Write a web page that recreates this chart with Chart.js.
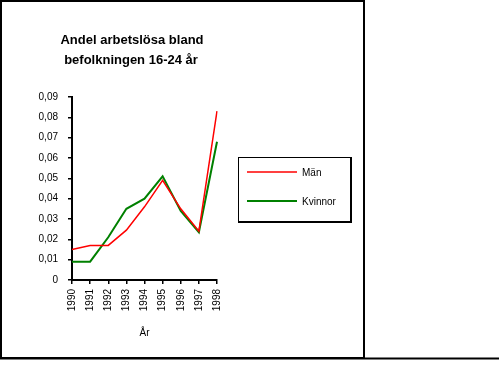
<!DOCTYPE html>
<html>
<head>
<meta charset="utf-8">
<script src="https://cdn.jsdelivr.net/npm/chart.js@4"></script>
<style>
  html, body { margin: 0; padding: 0; background: #fff; }
  #wrap { width: 499px; height: 367px; position: relative; }
</style>
</head>
<body>
<div id="wrap"><canvas id="chart" width="499" height="367"></canvas></div>
<script>
// ===== DATA =====
const years = ['1990', '1991', '1992', '1993', '1994', '1995', '1996', '1997', '1998'];
const man = [0.015, 0.017, 0.017, 0.0245, 0.036, 0.049, 0.035, 0.024, 0.083];
const kvinnor = [0.009, 0.009, 0.021, 0.035, 0.040, 0.051, 0.034, 0.0235, 0.068];
const seriesNames = ['Män', 'Kvinnor'];
const titleLines = ['Andel arbetslösa bland', 'befolkningen 16-24 år'];
const axisTitle = 'År';

const FONT = 'Arial, "Liberation Sans", sans-serif';

// frame, title and legend box drawn around the plot
const decor = {
  id: 'decor',
  afterDraw(chart) {
    const ctx = chart.ctx;
    ctx.save();
    // outer frame
    ctx.strokeStyle = '#000';
    ctx.lineWidth = 2;
    ctx.strokeRect(1, 1, 363, 357);
    ctx.beginPath();
    ctx.moveTo(0, 358.5);
    ctx.lineTo(499, 358.5);
    ctx.stroke();

    // title
    ctx.fillStyle = '#000';
    ctx.font = 'bold 13px ' + FONT;
    ctx.textAlign = 'center';
    ctx.textBaseline = 'middle';
    ctx.fillText(titleLines[0], 132, 40);
    ctx.fillText(titleLines[1], 131, 60);

    // legend box
    ctx.lineWidth = 1;
    ctx.strokeRect(238.5, 157.5, 112, 64);
    ctx.lineWidth = 2;
    ctx.beginPath();
    ctx.moveTo(238, 222);
    ctx.lineTo(351, 222);
    ctx.lineTo(351, 157);
    ctx.stroke();

    ctx.font = '10px ' + FONT;
    ctx.textAlign = 'left';
    chart.data.datasets.forEach((ds, i) => {
      const y = 172 + i * 29;
      ctx.strokeStyle = ds.borderColor;
      ctx.lineWidth = ds.borderWidth;
      ctx.beginPath();
      ctx.moveTo(247, y);
      ctx.lineTo(297, y);
      ctx.stroke();
      ctx.fillStyle = '#000';
      ctx.fillText(ds.label, 302, y + 1);
    });
    ctx.restore();
  }
};

new Chart(document.getElementById('chart'), {
  type: 'line',
  data: {
    labels: years,
    datasets: [
      { label: seriesNames[0], data: man, borderColor: '#ff0000', borderWidth: 1.5, pointRadius: 0, tension: 0 },
      { label: seriesNames[1], data: kvinnor, borderColor: '#008000', borderWidth: 2, pointRadius: 0, tension: 0 }
    ]
  },
  options: {
    responsive: false,
    animation: false,
    layout: { padding: { left: 0, top: 97, right: 282, bottom: 0 } },
    plugins: {
      legend: { display: false },
      title: { display: false },
      tooltip: { enabled: false }
    },
    scales: {
      x: {
        offset: false,
        afterFit: (s) => { s.height = 87; },
        border: { color: '#000', width: 2 },
        grid: { drawOnChartArea: false, drawTicks: true, tickLength: 4, color: '#000', lineWidth: 1.5 },
        ticks: { color: '#000', font: { size: 10, family: FONT }, minRotation: 90, maxRotation: 90, padding: 5, autoSkip: false },
        title: { display: true, text: axisTitle, color: '#000', font: { size: 10, family: FONT }, padding: { top: 0, bottom: 28 } }
      },
      y: {
        min: 0,
        max: 0.09,
        afterFit: (s) => { s.width = 72; },
        border: { color: '#000', width: 2 },
        grid: { drawOnChartArea: false, drawTicks: true, tickLength: 4, color: '#000', lineWidth: 1.5 },
        ticks: {
          stepSize: 0.01,
          color: '#000',
          padding: 10,
          font: { size: 10, family: FONT },
          callback: (v) => v === 0 ? '0' : v.toFixed(2).replace('.', ',')
        }
      }
    }
  },
  plugins: [decor]
});
</script>
</body>
</html>
